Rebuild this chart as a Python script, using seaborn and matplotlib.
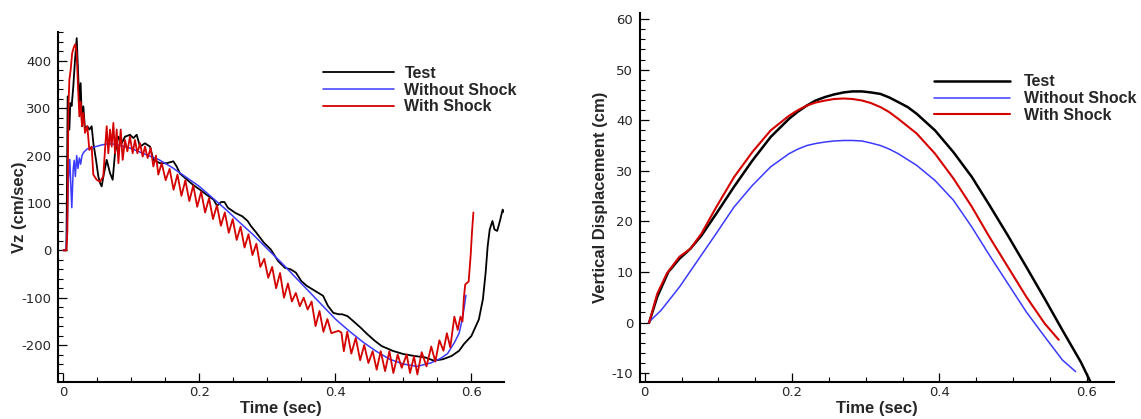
import matplotlib
matplotlib.use("Agg")
import matplotlib.pyplot as plt
from matplotlib.ticker import MultipleLocator, FuncFormatter
import numpy as np
import pandas as pd
import seaborn as sns

# ---------------- data: left panel (vertical velocity) ----------------
vel_test_t = [0.0, 0.0045, 0.0055, 0.0064, 0.0089, 0.0103, 0.0123, 0.0147, 0.0172, 0.0197,
              0.0216, 0.0236, 0.0255, 0.0275, 0.0295, 0.0319, 0.0353, 0.0383, 0.0417, 0.0442,
              0.0481, 0.0515, 0.0540, 0.0564, 0.0589, 0.0638, 0.0687, 0.0726, 0.0760, 0.0809,
              0.0858, 0.0907, 0.0981, 0.1030, 0.1079, 0.1128, 0.1201, 0.1275, 0.1324, 0.1422,
              0.1520, 0.1618, 0.1667, 0.1716, 0.182, 0.191, 0.201, 0.211, 0.221, 0.226,
              0.232, 0.237, 0.242, 0.253, 0.263, 0.271, 0.276, 0.284, 0.295, 0.305,
              0.316, 0.326, 0.334, 0.342, 0.350, 0.358, 0.366, 0.374, 0.382, 0.389,
              0.397, 0.405, 0.410, 0.418, 0.426, 0.437, 0.447, 0.458, 0.468, 0.484,
              0.500, 0.516, 0.532, 0.545, 0.558, 0.571, 0.582, 0.589, 0.600, 0.611,
              0.617, 0.621, 0.624, 0.627, 0.631, 0.634, 0.638, 0.642, 0.646, 0.649]
vel_test_v = [0, 0, 150, 325, 255, 311, 305, 346, 402, 448,
              381, 311, 353, 262, 304, 255, 262, 255, 262, 226,
              191, 156, 142, 135, 156, 191, 163, 149, 205, 240,
              226, 240, 244, 237, 244, 219, 226, 219, 191, 184,
              184, 188, 177, 162, 149, 138, 128, 117, 107, 94,
              102, 102, 90, 79, 72, 62, 51, 37, 16, 2,
              -23, -37, -40, -47, -65, -75, -82, -89, -96, -117,
              -132, -135, -135, -139, -149, -163, -177, -191, -202, -212,
              -219, -223, -226, -233, -230, -223, -212, -198, -181, -146,
              -103, -47, 9, 44, 62, 44, 41, 62, 86, 79]

vel_noshock_t = [0.0, 0.004, 0.0055, 0.0075, 0.0095, 0.011, 0.0125, 0.0145, 0.016, 0.0177,
                 0.0197, 0.0216, 0.0236, 0.0255, 0.0275, 0.030, 0.035, 0.045, 0.055, 0.065,
                 0.075, 0.085, 0.100, 0.120, 0.140, 0.160, 0.180, 0.200, 0.220, 0.240,
                 0.260, 0.280, 0.300, 0.320, 0.340, 0.360, 0.380, 0.400, 0.420, 0.440,
                 0.460, 0.480, 0.500, 0.520, 0.540, 0.555, 0.565, 0.575, 0.582, 0.586,
                 0.589, 0.592]
vel_noshock_v = [0, 0, 40, 150, 192, 140, 90, 170, 190, 156,
                 200, 173, 195, 182, 200, 207, 214, 218, 222, 225,
                 224, 221, 215, 203, 192, 175, 155, 135, 110, 85,
                 58, 32, 3, -25, -55, -85, -115, -145, -170, -193,
                 -213, -230, -240, -245, -238, -228, -218, -195, -175, -150,
                 -125, -95]

vel_shock_t = [0.0, 0.0045, 0.006, 0.0075, 0.0089, 0.0108, 0.013, 0.0157, 0.0177, 0.0197,
               0.0216, 0.0236, 0.0255, 0.0275, 0.0295, 0.0319, 0.0353, 0.0383, 0.0417, 0.0441,
               0.049, 0.0539, 0.0588, 0.0613, 0.0638, 0.0662, 0.0687, 0.0711, 0.0736, 0.076,
               0.0785, 0.081, 0.0844, 0.0873, 0.0907, 0.0942, 0.098, 0.102, 0.1054, 0.1089,
               0.1128, 0.1167, 0.1201, 0.124, 0.1285, 0.1324, 0.1363, 0.1397, 0.1447, 0.1505,
               0.1563, 0.1621, 0.1679, 0.1737, 0.1795, 0.1853, 0.1911, 0.1969, 0.2027, 0.2085,
               0.2143, 0.2201, 0.2259, 0.2317, 0.2375, 0.2433, 0.2491, 0.2549, 0.2607, 0.2665,
               0.2723, 0.2781, 0.2839, 0.2897, 0.2955, 0.3013, 0.3071, 0.3129, 0.3187, 0.3245,
               0.3303, 0.3361, 0.3419, 0.3477, 0.3535, 0.3593, 0.3651, 0.3709, 0.3767, 0.3825,
               0.3883, 0.3941, 0.400, 0.405, 0.409, 0.4125, 0.4175, 0.4235, 0.4300, 0.4365,
               0.4425, 0.4486, 0.4549, 0.4608, 0.4667, 0.4731, 0.4795, 0.4853, 0.4917, 0.4976,
               0.5049, 0.5098, 0.5157, 0.5206, 0.527, 0.534, 0.541, 0.547, 0.553, 0.559,
               0.564, 0.569, 0.575, 0.580, 0.584, 0.587, 0.589, 0.591, 0.596, 0.599,
               0.601, 0.603]
vel_shock_v = [0, 0, 40, 300, 360, 381, 416, 430, 435, 416,
               346, 283, 314, 262, 290, 248, 262, 212, 219, 160,
               149, 145, 156, 212, 262, 205, 255, 219, 269, 205,
               255, 184, 255, 191, 233, 209, 240, 205, 233, 205,
               226, 198, 219, 195, 216, 177, 200, 160, 184, 148,
               172, 128, 160, 115, 148, 104, 137, 92, 124, 80,
               110, 66, 95, 52, 80, 37, 66, 22, 50, 6,
               34, -10, 14, -35, -18, -58, -35, -80, -48, -100,
               -70, -108, -90, -118, -100, -125, -108, -160, -128, -172,
               -145, -175, -172, -170, -174, -213, -172, -218, -185, -232,
               -200, -238, -213, -252, -213, -255, -213, -259, -220, -248,
               -220, -259, -224, -262, -215, -245, -203, -235, -190, -212,
               -175, -205, -140, -168, -140, -150, -100, -72, -66, -10,
               40, 80]

# ---------------- data: right panel (vertical displacement) ----------------
disp_test_t = [0.006, 0.017, 0.032, 0.047, 0.062, 0.077, 0.097, 0.121, 0.146, 0.171,
               0.196, 0.208, 0.220, 0.232, 0.245, 0.257, 0.270, 0.282, 0.295, 0.307,
               0.320, 0.332, 0.344, 0.357, 0.369, 0.394, 0.419, 0.444, 0.468, 0.493,
               0.518, 0.543, 0.567, 0.592, 0.607]
disp_test_v = [0.0, 5.1, 10.0, 12.6, 14.6, 17.2, 21.5, 26.8, 32.0, 36.7,
               40.3, 41.7, 42.9, 43.9, 44.6, 45.1, 45.5, 45.7, 45.7, 45.5,
               45.2, 44.5, 43.6, 42.6, 41.3, 38.0, 33.7, 28.8, 23.2, 17.2,
               11.0, 4.7, -1.5, -7.8, -12.3]

disp_noshock_t = [0.005, 0.022, 0.047, 0.072, 0.097, 0.121, 0.146, 0.171, 0.196, 0.208,
                  0.220, 0.232, 0.245, 0.257, 0.270, 0.282, 0.295, 0.307, 0.320, 0.332,
                  0.344, 0.369, 0.394, 0.419, 0.444, 0.468, 0.493, 0.518, 0.543, 0.567,
                  0.585]
disp_noshock_v = [0.0, 2.4, 7.0, 12.3, 17.6, 22.8, 27.1, 30.8, 33.4, 34.3,
                  35.0, 35.4, 35.7, 35.9, 36.0, 36.0, 35.9, 35.5, 35.0, 34.3,
                  33.4, 31.1, 28.1, 24.2, 18.9, 13.3, 7.7, 2.1, -2.8, -7.4,
                  -9.7]

disp_shock_t = [0.006, 0.017, 0.030, 0.047, 0.062, 0.077, 0.097, 0.121, 0.146, 0.171,
                0.196, 0.208, 0.220, 0.232, 0.245, 0.257, 0.270, 0.282, 0.295, 0.307,
                0.320, 0.332, 0.344, 0.369, 0.394, 0.419, 0.444, 0.468, 0.493, 0.518,
                0.543, 0.562]
disp_shock_v = [0.0, 5.7, 9.7, 13.0, 14.6, 17.6, 22.8, 28.7, 33.7, 38.0,
                40.9, 42.0, 42.9, 43.5, 43.9, 44.2, 44.3, 44.2, 43.9, 43.4,
                42.6, 41.6, 40.3, 37.4, 33.4, 28.5, 22.9, 16.9, 11.0, 5.1,
                -0.2, -3.4]

series_names = ["Test", "Without Shock", "With Shock"]
colors = ["#000000", "#3a3aff", "#d40000"]

# ---------------- style ----------------
sns.set_style("ticks")
plt.rcParams["font.family"] = ["Liberation Sans", "DejaVu Sans"]
plt.rcParams["axes.unicode_minus"] = False

W, H = 1141, 419
fig = plt.figure(figsize=(W / 100, H / 100), dpi=100)
ax1 = fig.add_axes([58 / W, 1 - 382 / H, (504 - 58) / W, (382 - 32) / H])
ax2 = fig.add_axes([639.7 / W, 1 - 382.3 / H, (1114 - 639.7) / W, (382.3 - 13) / H])

left_sets = [(vel_test_t, vel_test_v), (vel_noshock_t, vel_noshock_v), (vel_shock_t, vel_shock_v)]
right_sets = [(disp_test_t, disp_test_v), (disp_noshock_t, disp_noshock_v), (disp_shock_t, disp_shock_v)]
left_lw = [1.3, 1.1, 1.3]
right_lw = [1.8, 1.1, 1.5]

for (tt, vv), name, c, lw in zip(left_sets, series_names, colors, left_lw):
    df = pd.DataFrame({"t": tt, "v": vv})
    sns.lineplot(data=df, x="t", y="v", ax=ax1, color=c, linewidth=lw, label=name,
                 estimator=None, sort=False)
for (tt, vv), name, c, lw in zip(right_sets, series_names, colors, right_lw):
    df = pd.DataFrame({"t": tt, "v": vv})
    sns.lineplot(data=df, x="t", y="v", ax=ax2, color=c, linewidth=lw, label=name,
                 estimator=None, sort=False)

ax1.set_xlim(-0.0078, 0.648)
ax1.set_ylim(-278, 461)
ax2.set_xlim(-0.0068, 0.637)
ax2.set_ylim(-11.8, 61.2)

xfmt = FuncFormatter(lambda x, p: "0" if abs(x) < 1e-9 else f"{x:.1f}")
yfmt = FuncFormatter(lambda y, p: f"{int(round(y))}")

for ax, ymaj, ymin in [(ax1, 100, 20), (ax2, 10, 2)]:
    ax.xaxis.set_major_locator(MultipleLocator(0.2))
    ax.xaxis.set_minor_locator(MultipleLocator(0.05))
    ax.yaxis.set_major_locator(MultipleLocator(ymaj))
    ax.yaxis.set_minor_locator(MultipleLocator(ymin))
    ax.xaxis.set_major_formatter(xfmt)
    ax.yaxis.set_major_formatter(yfmt)
    ax.tick_params(which="major", direction="in", length=6.3, width=0.9, labelsize=9.5, color="black")
    ax.tick_params(which="minor", direction="in", length=3.6, width=0.8, color="black")
    ax.tick_params(axis="x", which="major", pad=3.0)
    ax.tick_params(axis="y", which="major", pad=4.6)
    for lab in ax.get_xticklabels() + ax.get_yticklabels():
        lab.set_family("DejaVu Sans")
    for s in ["top", "right"]:
        ax.spines[s].set_visible(False)
    for s in ["left", "bottom"]:
        ax.spines[s].set_linewidth(1.5)
        ax.spines[s].set_color("black")
    ax.set_xlabel("Time (sec)", fontsize=12, fontweight="bold")

ax1.set_ylabel("Vz (cm/sec)", fontsize=12, fontweight="bold")
ax2.set_ylabel("Vertical Displacement (cm)", fontsize=12, fontweight="bold")
ax1.yaxis.set_label_coords(-0.0704, 0.5)
ax2.yaxis.set_label_coords(-0.0668, 0.5)
ax1.xaxis.set_label_coords(0.5, -0.054)
ax2.xaxis.set_label_coords(0.5, -0.050)

leg_prop = {"weight": "bold", "size": 11.5}
ax1.legend(loc="upper left", bbox_to_anchor=(322.8 / W, 1 - 66 / H), bbox_transform=fig.transFigure,
           frameon=False, borderpad=0, borderaxespad=0, handlelength=4.43, handletextpad=0.68,
           labelspacing=0.1, prop=leg_prop)
ax2.legend(loc="upper left", bbox_to_anchor=(933.8 / W, 1 - 74.5 / H), bbox_transform=fig.transFigure,
           frameon=False, borderpad=0, borderaxespad=0, handlelength=4.75, handletextpad=0.87,
           labelspacing=0.1, prop=leg_prop)

fig.savefig("out.png", dpi=100)
